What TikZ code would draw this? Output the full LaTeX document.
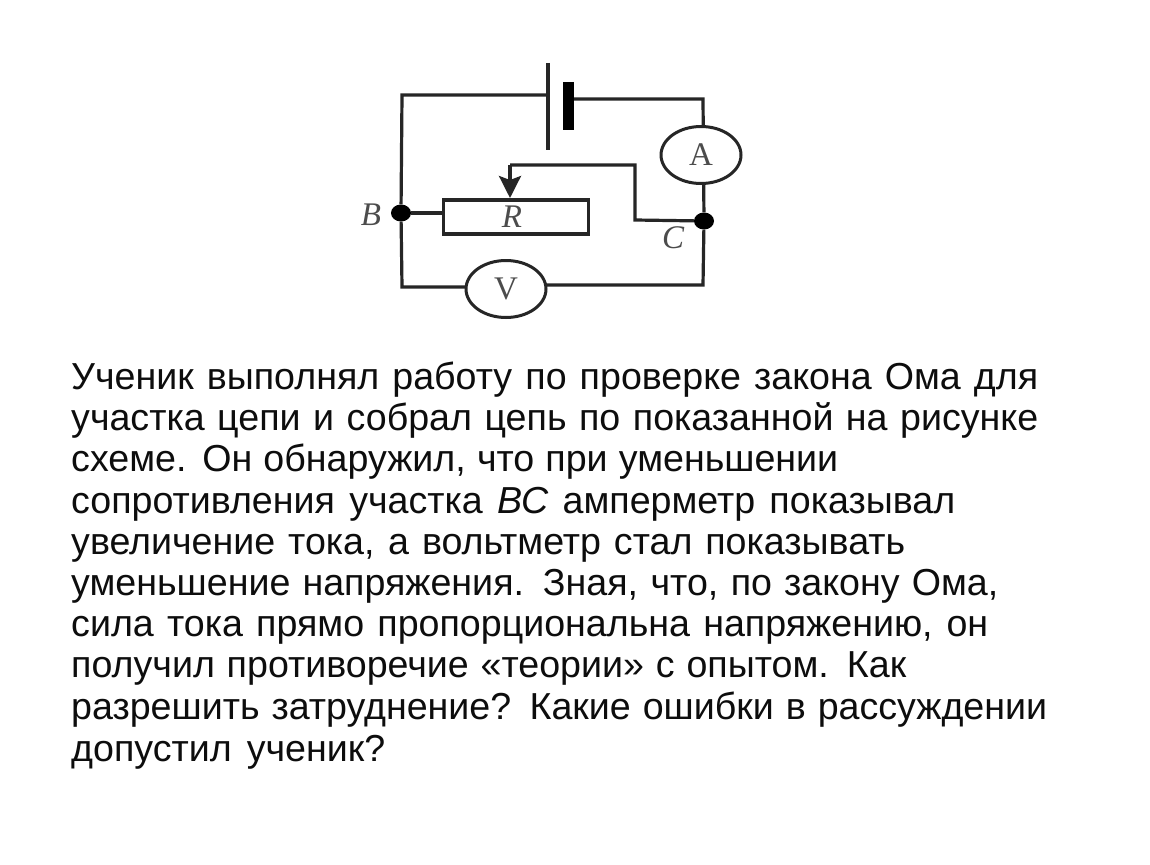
\documentclass[tikz,border=0pt]{standalone}
\usepackage{fontspec}
\setmainfont{Liberation Sans}
\newfontfamily\serifx{Liberation Serif}
\usetikzlibrary{arrows.meta,shapes.geometric}
\newcommand{\linew}[2]{\makebox[#1pt][s]{#2}}
\begin{document}
\begin{tikzpicture}[x=1pt,y=-1pt,
 wire/.style={line width=3.2pt,black!85,line join=miter},
 meter/.style={ellipse,draw=black!85,line width=3pt,fill=white,minimum width=80pt,minimum height=57pt,inner sep=0pt,font=\serifx\fontsize{33}{33}\selectfont,text=black!70},
 dotn/.style={ellipse,fill=black,minimum width=20pt,minimum height=17pt,inner sep=0pt},
 lab/.style={font=\serifx\itshape\fontsize{33}{33}\selectfont,inner sep=0pt,text=black!70},
 txt/.style={anchor=base west,inner sep=0pt,font=\fontsize{37.6}{40}\selectfont,text=black!95}]
\useasboundingbox (0,0) rectangle (1150,864);
\fill[white] (0,0) rectangle (1150,864);
\coordinate (tl) at (402,95); \coordinate (pa) at (548,95);
\coordinate (pb) at (568,99); \coordinate (tr) at (703,99);
\coordinate (bl) at (402,287); \coordinate (br) at (703,285);
\node[dotn] (B) at (401,213) {};
\node[dotn] (C) at (704,221) {};
\draw[wire] (pa) -- (tl) -- (B) -- (bl) -- (505,287);
\draw[wire] (505,285) -- (br) -- (C) -- (tr) -- (pb);
\coordinate (p1t) at (548,63); \coordinate (p1b) at (548,150);
\coordinate (p2t) at (568,82); \coordinate (p2b) at (568,130);
\draw[line width=3.4pt,black!85] (p1t) -- (p1b);
\draw[line width=11pt,black] (p2t) -- (p2b);
\node[meter] (A) at (701,155) {A};
\node[meter] (V) at (506,289) {V};
\node[draw=black!85,line width=3.2pt,fill=white,minimum width=145pt,minimum height=34pt,inner sep=0pt,font=\serifx\itshape\fontsize{33}{33}\selectfont,text=black!70] (R) at (516,217) {\hspace*{-8pt}R};
\draw[wire] (B) -- (R.west |- B);
\coordinate (w1) at (635,165); \coordinate (w2) at (635,220); \coordinate (w3) at (510,165);
\draw[wire] (C) -- (w2) -- (w1) -- (w3);
\draw[wire,-{Stealth[length=22pt,width=22pt,inset=4pt]}] (w3) -- (510,198);
\node[lab] (lB) at (371,215) {B};
\node[lab] (lC) at (673,238) {C};
\node[txt] at (71,389) {\linew{967}{Ученик выполнял работу по проверке закона Ома для}};
\node[txt] at (71,430) {\linew{967}{участка цепи и собрал цепь по показанной на рисунке}};
\node[txt] at (71,471) {\linew{767}{схеме. Он обнаружил, что при уменьшении}};
\node[txt] at (71,513) {\linew{884}{сопротивления участка {\itshape ВС} амперметр показывал}};
\node[txt] at (71,554) {\linew{834}{увеличение тока, а вольтметр стал показывать}};
\node[txt] at (71,595) {\linew{927}{уменьшение напряжения. Зная, что, по закону Ома,}};
\node[txt] at (71,636) {\linew{917}{сила тока прямо пропорциональна напряжению, он}};
\node[txt] at (71,677) {\linew{835}{получил противоречие «теории» с опытом. Как}};
\node[txt] at (71,719) {\linew{976}{разрешить затруднение? Какие ошибки в рассуждении}};
\node[txt] at (71,761) {\linew{314}{допустил ученик?}};
\end{tikzpicture}
\end{document}
